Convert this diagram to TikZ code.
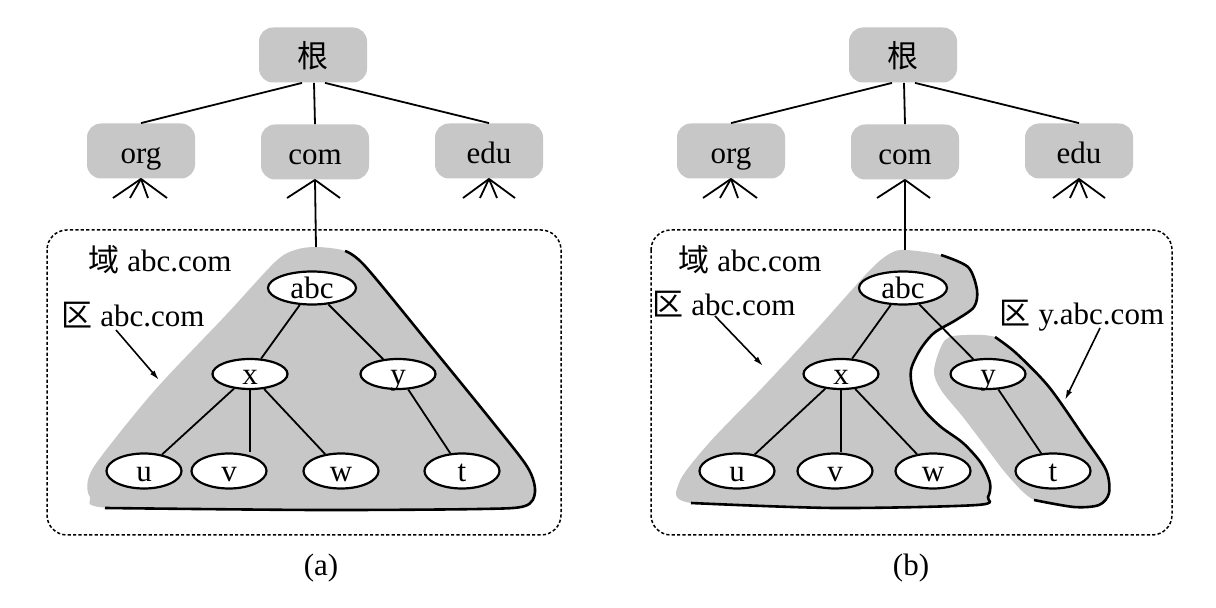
\documentclass[tikz,border=0pt]{standalone}
\usepackage{fontspec}
\setmainfont{Liberation Serif}
\newfontfamily\cjk{Noto Sans CJK SC}
\usetikzlibrary{shapes.geometric,arrows.meta}
\newcommand\myfs{\fontsize{15.5}{18}\selectfont}
\begin{document}
\begin{tikzpicture}[x=0.5pt,y=-0.5pt,
  topbox/.style={rounded corners=7pt, fill=black!22, minimum width=54pt, minimum height=27.5pt, inner sep=0pt, text height=13pt, text depth=0pt, font=\myfs},
  enode/.style={ellipse, draw, line width=1.1pt, fill=white, inner sep=0pt, minimum width=37.5pt, minimum height=17.5pt, text height=10.5pt, text depth=0pt, font=\myfs},
  midnode/.style={enode, minimum height=15pt},
  rootnode/.style={enode, minimum width=44pt, minimum height=16.5pt},
  conn/.style={line width=0.9pt},
  zone/.style={fill=black!22},
  rim/.style={line width=1.3pt},
  dbox/.style={dash pattern=on 1.6pt off 1.1pt, line width=0.75pt, rounded corners=10pt},
  pointer/.style={line width=0.8pt, -{Latex[length=5pt,width=2.8pt]}},
  lbl/.style={font=\myfs, inner sep=0pt}
]
\fill[white] (0,0) rectangle (1216,608);
\useasboundingbox (0,0) rectangle (1216,608);

% ---------------- panel (a) ----------------
\node[topbox] (roota) at (313,55) {\cjk 根};
\node[topbox] (orga) at (141,151) {org};
\node[topbox] (coma) at (315,152) {com};
\node[topbox] (edua) at (489,151) {edu};
\draw[conn] ([xshift=-5.5pt]roota.south) -- (orga.north);
\draw[conn] ([xshift=0.5pt]roota.south) -- (coma.north);
\draw[conn] ([xshift=6pt]roota.south) -- (edua.north);
\coordinate (oa1) at (113,198); \coordinate (oa2) at (130,198);
\coordinate (oa3) at (148,198); \coordinate (oa4) at (167,198);
\coordinate (ca1) at (287,198); \coordinate (ca2) at (340,198);
\coordinate (ea1) at (463,198); \coordinate (ea2) at (480,198);
\coordinate (ea3) at (497,198); \coordinate (ea4) at (515,198);
\foreach \p in {oa1,oa2,oa3,oa4} \draw[conn] (orga.south) -- (\p);
\foreach \p in {ca1,ca2} \draw[conn] (coma.south) -- (\p);
\foreach \p in {ea1,ea2,ea3,ea4} \draw[conn] (edua.south) -- (\p);

\draw[dbox] (47,230) rectangle (561,535);

\fill[zone] plot[smooth cycle, tension=0.5] coordinates {(316,247) (345,251) (365,266) (430,345) (495,425) (528,468) (535,492) (525,506) (480,509) (316,510) (110,508) (90,497) (88,480) (100,458) (155,390) (226,315) (275,262) (295,250)};
\draw[rim] plot[smooth, tension=0.5] coordinates {(345,251) (365,266) (430,345) (495,425) (528,468) (535,492) (525,506) (480,509) (316,510) (105,508)};

\coordinate (topa) at (316,247);
\draw[conn] (coma.south) -- (topa);

\node[lbl] (doma) at (160,260) {{\cjk 域} abc.com};
\node[lbl] (zonea) at (133,315) {{\cjk 区} abc.com};
\coordinate (za1) at (116,330); \coordinate (za2) at (159,380);
\draw[pointer] (za1) -- (za2);

\node[rootnode] (abca) at (312,288) {abc};
\node[midnode] (xa) at (250,374) {x};
\node[midnode] (ya) at (398,374) {y};
\node[enode] (ua) at (144,471) {u};
\node[enode] (va) at (229,471) {v};
\node[enode] (wa) at (341,471) {w};
\node[enode] (ta) at (462,471) {t};
\draw[conn] (abca) -- (xa);
\draw[conn] (abca) -- (ya);
\draw[conn] (xa) -- (ua);
\draw[conn] (xa.south) -- (xa.south |- va.north);
\draw[conn] (xa) -- (wa);
\draw[conn] (ya) -- (ta);

\node[lbl] (capa) at (321,568) {(a)};

% ---------------- panel (b) ----------------
\node[topbox] (rootb) at (903,55) {\cjk 根};
\node[topbox] (orgb) at (731,151) {org};
\node[topbox] (comb) at (905,152) {com};
\node[topbox] (edub) at (1079,151) {edu};
\draw[conn] ([xshift=-5.5pt]rootb.south) -- (orgb.north);
\draw[conn] ([xshift=0.5pt]rootb.south) -- (comb.north);
\draw[conn] ([xshift=6pt]rootb.south) -- (edub.north);
\coordinate (ob1) at (703,198); \coordinate (ob2) at (720,198);
\coordinate (ob3) at (738,198); \coordinate (ob4) at (757,198);
\coordinate (cb1) at (877,198); \coordinate (cb2) at (930,198);
\coordinate (eb1) at (1053,198); \coordinate (eb2) at (1070,198);
\coordinate (eb3) at (1087,198); \coordinate (eb4) at (1105,198);
\foreach \p in {ob1,ob2,ob3,ob4} \draw[conn] (orgb.south) -- (\p);
\foreach \p in {cb1,cb2} \draw[conn] (comb.south) -- (\p);
\foreach \p in {eb1,eb2,eb3,eb4} \draw[conn] (edub.south) -- (\p);

\draw[dbox] (651,230) rectangle (1172,535);

\fill[zone] plot[smooth cycle, tension=0.5] coordinates {(906,250) (941,255) (968,267) (977,290) (974,307) (956,320) (934,333) (920,350) (911,370) (913,390) (924,410) (941,427) (963,443) (981,463) (990,483) (988,497) (977,505) (834,508) (691,503) (679,483) (709,443) (763,387) (816,330) (870,270) (891,253)};
\draw[rim] plot[smooth, tension=0.5] coordinates {(941,255) (968,267) (977,290) (974,307) (956,320) (934,333) (920,350) (911,370) (913,390) (924,410) (941,427) (963,443) (981,463) (990,483) (988,497) (977,505) (834,508) (691,503)};

\fill[zone] plot[smooth cycle, tension=0.5] coordinates {(945,340) (966,335) (995,337) (1016,353) (1049,387) (1084,437) (1106,470) (1109,493) (1099,505) (1074,507) (1034,500) (1009,477) (988,450) (963,417) (941,390) (934,370)};
\draw[rim] plot[smooth, tension=0.5] coordinates {(995,337) (1016,353) (1049,387) (1084,437) (1106,470) (1109,493) (1099,505) (1074,507) (1034,500)};

\coordinate (topb) at (905,250);
\draw[conn] (comb.south) -- (topb);

\node[lbl] (domb) at (750,260) {{\cjk 域} abc.com};
\node[lbl] (zoneb) at (724,304) {{\cjk 区} abc.com};
\coordinate (zb1) at (715,316); \coordinate (zb2) at (763,366);
\draw[pointer] (zb1) -- (zb2);
\node[lbl] (zoney) at (1082,316) {{\cjk 区} y.abc.com};
\coordinate (zy1) at (1100,328); \coordinate (zy2) at (1065,400);
\draw[pointer] (zy1) -- (zy2);

\node[rootnode] (abcb) at (903,288) {abc};
\node[midnode] (xb) at (841,374) {x};
\node[midnode] (yb) at (988,374) {y};
\node[enode] (ub) at (737,471) {u};
\node[enode] (vb) at (835,471) {v};
\node[enode] (wb) at (933,471) {w};
\node[enode] (tb) at (1053,471) {t};
\draw[conn] (abcb) -- (xb);
\draw[conn] (abcb) -- (yb);
\draw[conn] (xb) -- (ub);
\draw[conn] (xb.south) -- (xb.south |- vb.north);
\draw[conn] (xb) -- (wb);
\draw[conn] (yb) -- (tb);

\node[lbl] (capb) at (911,568) {(b)};
\end{tikzpicture}
\end{document}
